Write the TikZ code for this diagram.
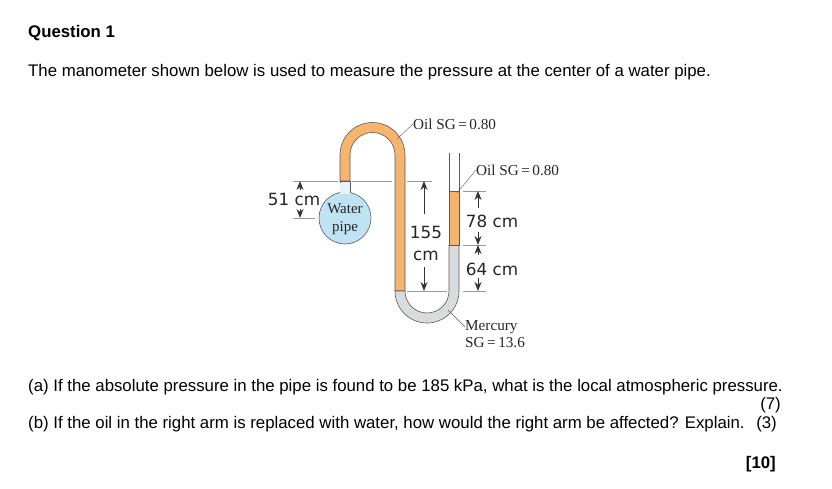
\documentclass[tikz,border=0pt]{standalone}
\usepackage{fontspec}
\setmainfont{Liberation Sans}
\newfontfamily\serifface{Liberation Serif}
\newfontfamily\dimface{DejaVu Sans}
\usepackage{tikz}
\usetikzlibrary{arrows.meta,calc,positioning}
\definecolor{oil}{HTML}{F5B56F}
\definecolor{mercury}{HTML}{DADBDD}
\definecolor{pipewater}{HTML}{BFE3F3}
\definecolor{neckwater}{HTML}{E6F3F8}
\definecolor{tubeline}{HTML}{5A5A5A}
\tikzset{
tube/.style={draw=tubeline,line width=0.6pt},
ref/.style={draw=gray!80,line width=0.6pt},
dimarrow/.style={-{Stealth[length=9pt,width=7pt]},black!80,line width=1pt},
qtext/.style={anchor=west,inner sep=0pt,font=\fontsize{16.8}{20}\selectfont},
dimtext/.style={inner sep=0pt,font=\dimface\fontsize{16.8}{20}\selectfont,text=black!85},
fluidtext/.style={anchor=west,inner sep=0pt,font=\serifface\fontsize{15.2}{18}\selectfont,text=black!85}
}
\begin{document}
\begin{tikzpicture}[x=1pt,y=1pt]
\useasboundingbox[fill=white] (0,-489) rectangle (832,0);
% question text
\node[qtext,font=\bfseries\fontsize{16.8}{20}\selectfont] (question) at (28,-33.5) {Question 1};
\node[qtext] (intro) at (28,-72.5) {The manometer shown below is used to measure the pressure at the center of a water pipe.};
\node[qtext] (parta) at (28,-387.5) {(a) If the absolute pressure in the pipe is found to be 185 kPa, what is the local atmospheric pressure.};
\node[qtext,anchor=east] (marka) at (781,-405) {(7)};
\node[qtext] (partb) at (28,-424.5) {(b) If the oil in the right arm is replaced with water, how would the right arm be affected? Explain.};
\node[qtext,anchor=east] (markb) at (777,-424) {(3)};
\node[qtext,anchor=east,font=\bfseries\fontsize{16.8}{20}\selectfont] (total) at (776,-464) {[10]};
% reference lines
\draw[ref] (293,-181) -- (338,-181);
\draw[ref] (352,-181) -- (392,-181);
\draw[ref] (407,-181) -- (432,-181);
\draw[ref] (293,-218) -- (315,-218);
\draw[ref] (407,-291) -- (447,-291);
\draw[ref] (463,-191) -- (486,-191);
\draw[ref] (463,-245) -- (486,-245);
\draw[ref] (463,-291) -- (486,-291);
% manometer
\filldraw[tube,fill=neckwater] (340,-181) rectangle (350,-196);
\filldraw[tube,fill=pipewater] (345,-218) circle (26pt);
\fill[neckwater] (340.4,-183) rectangle (349.6,-194);
\filldraw[tube,fill=oil] (340,-181) -- (340,-155) arc (180:0:32.5pt) -- (405,-291) -- (395,-291) -- (395,-155) arc (0:180:22.5pt) -- (350,-181) -- cycle;
\filldraw[tube,fill=mercury] (395,-291) arc (180:360:32pt) -- (459,-245) -- (449,-245) -- (449,-291) arc (0:-180:22pt) -- cycle;
\filldraw[tube,fill=oil] (449,-191) rectangle (459,-245);
\draw[tube] (449,-153) -- (449,-191);
\draw[tube] (459,-153) -- (459,-191);
\node[inner sep=0pt,align=center,font=\serifface\fontsize{15}{17.5}\selectfont,text=black!85] (water) at (345,-219) {Water\\pipe};
% dimensions
\node[dimtext] (dimA) at (294,-199) {51 cm};
\draw[dimarrow] (300,-190) -- (300,-181);
\draw[dimarrow] (300,-209) -- (300,-218);
\node[dimtext,align=center,font=\dimface\fontsize{16.8}{22}\selectfont] (dimB) at (426,-243) {155\\cm};
\draw[dimarrow] (424,-214) -- (424,-181);
\draw[dimarrow] (424,-267) -- (424,-291);
\node[dimtext] (dimC) at (492,-221) {78 cm};
\draw[dimarrow] (478,-208) -- (478,-191);
\draw[dimarrow] (478,-232) -- (478,-245);
\node[dimtext] (dimD) at (492,-269) {64 cm};
\draw[dimarrow] (478,-255) -- (478,-245);
\draw[dimarrow] (478,-278) -- (478,-291);
% fluid labels
\node[fluidtext] (oilA) at (413,-124) {Oil SG\,=\,0.80};
\node[fluidtext] (oilB) at (476,-170) {Oil SG\,=\,0.80};
\node[fluidtext] (merc) at (465,-327) {Mercury};
\node[fluidtext] (mercsg) at (465,-343) {SG\,=\,13.6};
\coordinate (oilAend) at (397,-139);
\coordinate (oilBend) at (457,-193);
\coordinate (mercend) at (448,-310);
\draw[tubeline] (oilA.west) -- (oilAend);
\draw[tubeline] (oilB.west) -- (oilBend);
\draw[tubeline] (merc.west) -- (mercend);
\end{tikzpicture}
\end{document}
